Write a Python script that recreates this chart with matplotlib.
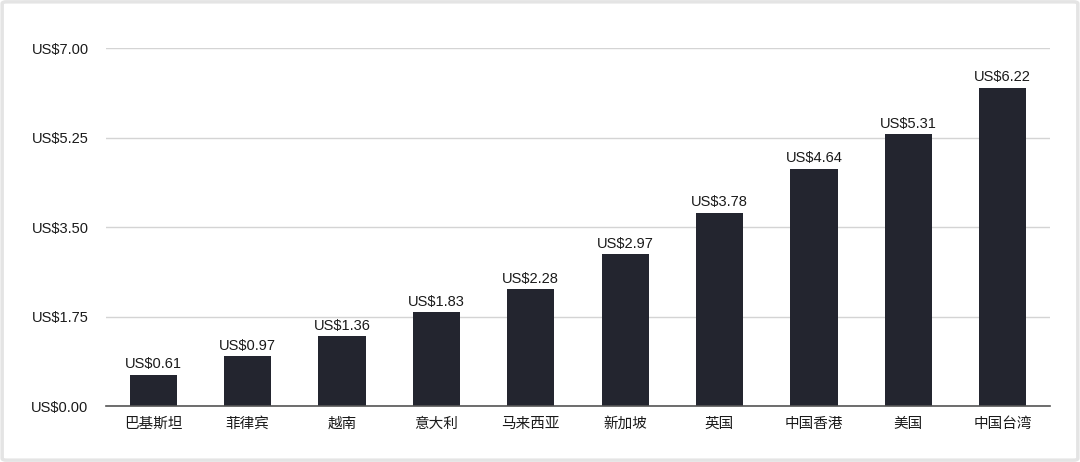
import matplotlib
matplotlib.use("Agg")
import matplotlib.pyplot as plt
from matplotlib.patches import FancyBboxPatch

plt.rcParams["font.family"] = ["Liberation Sans", "Noto Sans CJK SC", "DejaVu Sans"]

countries = ["巴基斯坦", "菲律宾", "越南", "意大利", "马来西亚", "新加坡", "英国", "中国香港", "美国", "中国台湾"]
prices = [0.61, 0.97, 1.36, 1.83, 2.28, 2.97, 3.78, 4.64, 5.31, 6.22]
y_ticks = [0.0, 1.75, 3.50, 5.25, 7.00]

fig = plt.figure(figsize=(10.8, 4.62), dpi=100)
ax = fig.add_axes([0.0981, 0.1212, 0.8741, 0.7749])

x = range(len(countries))
ax.bar(x, prices, width=0.5, color="#23252f", zorder=3)

for xi, v in zip(x, prices):
    ax.text(xi, v + 0.07, f"US${v:.2f}", ha="center", va="bottom",
            fontsize=10.5, color="#1a1a1a", zorder=4)

ax.set_xlim(-0.5, len(countries) - 0.5)
ax.set_ylim(0, 7.0)
ax.set_yticks(y_ticks)
ax.set_yticklabels([f"US${t:.2f}" for t in y_ticks])
ax.set_xticks(list(x))
ax.set_xticklabels(countries, family=["Noto Sans CJK SC", "DejaVu Sans"])

ax.tick_params(axis="y", length=0, pad=12.5, labelsize=10.5, labelcolor="#1a1a1a")
ax.tick_params(axis="x", length=0, pad=8, labelsize=10.5, labelcolor="#1a1a1a")

ax.grid(axis="y", color="#d4d4d4", linewidth=1.0, zorder=0)
for side in ["top", "right", "left"]:
    ax.spines[side].set_visible(False)
ax.spines["bottom"].set_color("#555555")
ax.spines["bottom"].set_linewidth(1.2)
ax.spines["bottom"].set_zorder(5)

# light frame round the picture
frame = FancyBboxPatch((0.002, 0.004), 0.996, 0.992, boxstyle="round,pad=0,rounding_size=0.004",
                       transform=fig.transFigure, fill=False, edgecolor="#e4e4e4", linewidth=2.5)
fig.patches.append(frame)

fig.savefig("out.png", dpi=100)
